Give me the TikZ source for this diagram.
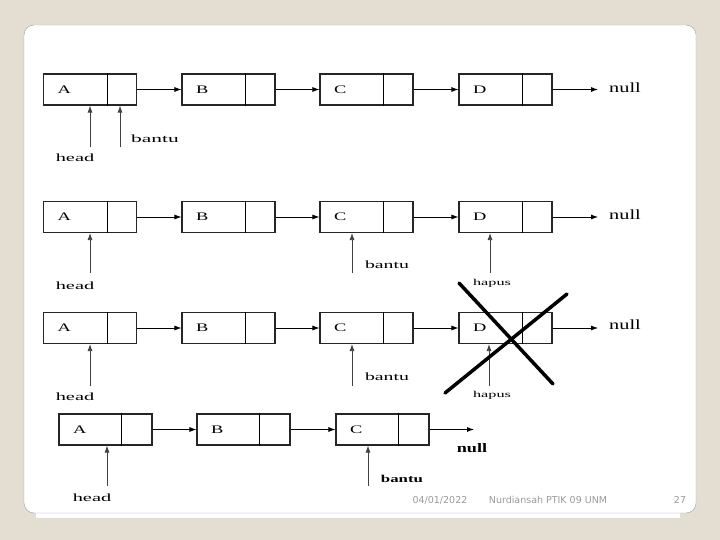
\documentclass[tikz,border=0pt]{standalone}
\usepackage{fontspec}
\usepackage{graphicx}
\setmainfont{Liberation Serif}
\newfontfamily\footfont{DejaVu Sans}
\usetikzlibrary{arrows.meta}
\definecolor{bg}{HTML}{E3DDD2}
\definecolor{panelborder}{HTML}{A0A0A0}
\definecolor{foottext}{HTML}{9A9A9A}
\newcommand{\stretchtxt}[2]{\scalebox{#1}[1]{#2}}
\begin{document}
\begin{tikzpicture}[x=1pt,y=-1pt,
  cell/.style={draw=black!85, line width=1.1pt, minimum width=93pt, minimum height=31pt,
    text width=65pt, inner xsep=14pt, inner ysep=0pt, align=left,
    font=\fontsize{11.5}{12}\selectfont},
  nxt/.style={-{Latex[length=7pt,width=5pt]}, line width=0.8pt},
  ptr/.style={-{Latex[length=7pt,width=5pt]}, line width=0.8pt, draw=black!75},
  lbl/.style={font=\fontsize{11}{12}\selectfont, inner sep=0pt},
  smalllbl/.style={font=\fontsize{9}{10}\selectfont, inner sep=0pt},
  nulltxt/.style={font=\fontsize{14}{14}\selectfont, inner sep=0pt},
  divider/.style={line width=0.9pt},
  cross/.style={line width=3.5pt, line cap=round},
  foot/.style={font=\footfont\fontsize{9.5}{10}\selectfont, text=foottext, inner sep=0pt}
]
\useasboundingbox (0,0) rectangle (720,540);
\fill[bg] (0,0) rectangle (720,540);
\fill[white] (36,505) rectangle (680,518);
\draw[draw=panelborder, fill=white, rounded corners=10pt] (24,25) rectangle (696,513);

% ---------- Row 1 ----------
\node[cell] (A1) at (90,89.5) {\stretchtxt{1.6}{A}};
\node[cell] (B1) at (228.5,89.5) {\stretchtxt{1.6}{B}};
\node[cell] (C1) at (366.5,89.5) {\stretchtxt{1.6}{C}};
\node[cell] (D1) at (505.5,89.5) {\stretchtxt{1.6}{D}};
\foreach \n in {A1,B1,C1,D1}
  \draw[divider] ([xshift=64pt]\n.north west) -- ([xshift=64pt]\n.south west);
\draw[nxt] (A1) -- (B1);
\draw[nxt] (B1) -- (C1);
\draw[nxt] (C1) -- (D1);
\coordinate (n1) at (598,89.5);
\draw[nxt] (D1) -- (n1);
\node[nulltxt, anchor=west] (null1) at (609,88) {\stretchtxt{1.45}{null}};
\node[lbl] (head1) at (75,158) {\stretchtxt{1.85}{head}};
\coordinate (hp1) at (90,147);
\draw[ptr] (hp1) -- (hp1 |- A1.south);
\node[lbl] (bantu1) at (155,139) {\stretchtxt{1.95}{bantu}};
\coordinate (bp1) at (120,147);
\draw[ptr] (bp1) -- (bp1 |- A1.south);

% ---------- Row 2 ----------
\node[cell] (A2) at (90,217) {\stretchtxt{1.6}{A}};
\node[cell] (B2) at (228.5,217) {\stretchtxt{1.6}{B}};
\node[cell] (C2) at (366.5,217) {\stretchtxt{1.6}{C}};
\node[cell] (D2) at (505.5,217) {\stretchtxt{1.6}{D}};
\foreach \n in {A2,B2,C2,D2}
  \draw[divider] ([xshift=64pt]\n.north west) -- ([xshift=64pt]\n.south west);
\draw[nxt] (A2) -- (B2);
\draw[nxt] (B2) -- (C2);
\draw[nxt] (C2) -- (D2);
\coordinate (n2) at (598,217);
\draw[nxt] (D2) -- (n2);
\node[nulltxt, anchor=west] (null2) at (609,215) {\stretchtxt{1.45}{null}};
\node[lbl] (head2) at (75,286) {\stretchtxt{1.85}{head}};
\coordinate (hp2) at (90,273);
\draw[ptr] (hp2) -- (hp2 |- A2.south);
\node[lbl] (bantu2) at (387,265) {\stretchtxt{1.8}{bantu}};
\coordinate (bp2) at (352,273);
\draw[ptr] (bp2) -- (bp2 |- C2.south);
\node[smalllbl] (hapus2) at (492,283) {\stretchtxt{1.8}{hapus}};
\coordinate (xp2) at (490,273);
\draw[ptr] (xp2) -- (xp2 |- D2.south);

% ---------- Row 3 ----------
\node[cell] (A3) at (90,328) {\stretchtxt{1.6}{A}};
\node[cell] (B3) at (228.5,328) {\stretchtxt{1.6}{B}};
\node[cell] (C3) at (366.5,328) {\stretchtxt{1.6}{C}};
\node[cell] (D3) at (505.5,328) {\stretchtxt{1.6}{D}};
\foreach \n in {A3,B3,C3,D3}
  \draw[divider] ([xshift=64pt]\n.north west) -- ([xshift=64pt]\n.south west);
\draw[nxt] (A3) -- (B3);
\draw[nxt] (B3) -- (C3);
\draw[nxt] (C3) -- (D3);
\coordinate (n3) at (598,328);
\draw[nxt] (D3) -- (n3);
\node[nulltxt, anchor=west] (null3) at (609,325) {\stretchtxt{1.45}{null}};
\node[lbl] (head3) at (75,397) {\stretchtxt{1.85}{head}};
\coordinate (hp3) at (90,386);
\draw[ptr] (hp3) -- (hp3 |- A3.south);
\node[lbl] (bantu3) at (387,377) {\stretchtxt{1.8}{bantu}};
\coordinate (bp3) at (352,386);
\draw[ptr] (bp3) -- (bp3 |- C3.south);
\node[smalllbl] (hapus3) at (492,395) {\stretchtxt{1.8}{hapus}};
\coordinate (xp3) at (489,386);
\draw[ptr] (xp3) -- (xp3 |- D3.south);
% cross over D
\coordinate (x1a) at (459,283);
\coordinate (x1b) at (553,384);
\coordinate (x2a) at (445,393);
\coordinate (x2b) at (567,294);
\draw[cross] (x1a) -- (x1b);
\draw[cross] (x2a) -- (x2b);

% ---------- Row 4 ----------
\node[cell] (A4) at (105.5,429.5) {\stretchtxt{1.6}{A}};
\node[cell] (B4) at (243.5,429.5) {\stretchtxt{1.6}{B}};
\node[cell] (C4) at (382.5,429.5) {\stretchtxt{1.6}{C}};
\foreach \n in {A4,B4,C4}
  \draw[divider] ([xshift=63pt]\n.north west) -- ([xshift=63pt]\n.south west);
\draw[nxt] (A4) -- (B4);
\draw[nxt] (B4) -- (C4);
\coordinate (n4) at (474,429.5);
\draw[nxt] (C4) -- (n4);
\node[nulltxt, font=\bfseries\fontsize{13}{13}\selectfont] (null4) at (472,448) {\stretchtxt{1.4}{null}};
\node[lbl] (head4) at (92,498) {\stretchtxt{1.85}{head}};
\coordinate (hp4) at (107,486);
\draw[ptr] (hp4) -- (hp4 |- A4.south);
\node[lbl, font=\bfseries\fontsize{10.5}{11}\selectfont] (bantu4) at (402,479) {\stretchtxt{1.6}{bantu}};
\coordinate (bp4) at (368,486);
\draw[ptr] (bp4) -- (bp4 |- C4.south);

% ---------- Footer ----------
\node[foot] (date) at (440,500) {04/01/2022};
\node[foot] (author) at (548,500) {Nurdiansah PTIK 09 UNM};
\node[foot] (page) at (680,500) {27};
\end{tikzpicture}
\end{document}
